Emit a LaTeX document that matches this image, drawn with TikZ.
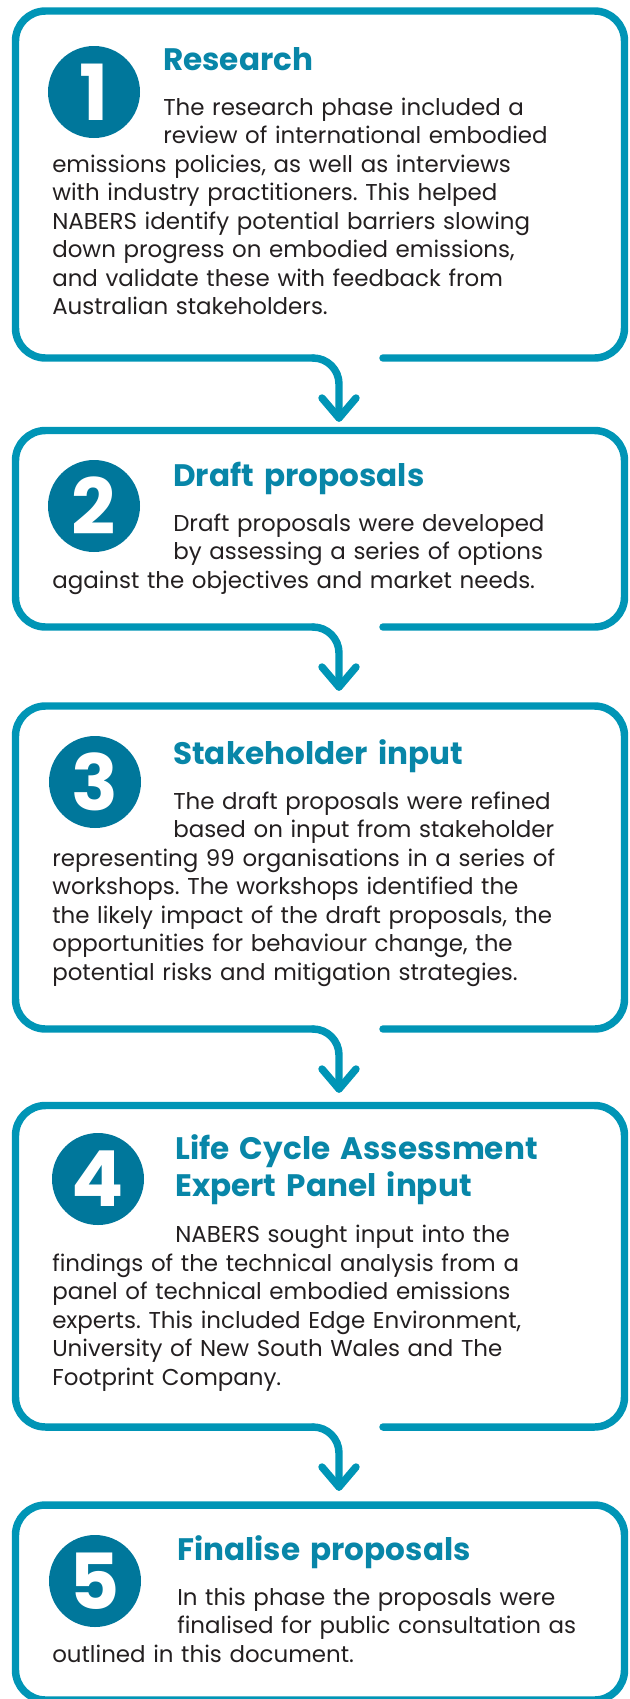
\documentclass[tikz,border=0pt]{standalone}
\usepackage{fontspec}
\setmainfont{Poppins}
\frenchspacing

\definecolor{stepblue}{RGB}{0,149,182}
\definecolor{discblue}{RGB}{0,119,155}
\definecolor{headblue}{RGB}{8,134,168}
\definecolor{bodygrey}{RGB}{35,31,32}

\tikzset{
  outline/.style={draw=stepblue, line width=5.6pt, line cap=round, line join=round},
  disc/.style={circle, fill=discblue, minimum size=69pt, inner sep=0pt, text=white,
    font=\fontsize{58pt}{58pt}\selectfont\bfseries},
  headtxt/.style={anchor=base west, inner sep=0pt, text=headblue, text width=420pt, align=left,
    font=\fontsize{23.3pt}{27.75pt}\selectfont\bfseries},
  bodytxt/.style={anchor=base west, inner sep=0pt, text=bodygrey, text width=440pt, align=left,
    font=\fontsize{17.2pt}{21.4pt}\selectfont},
}

\begin{document}
\begin{tikzpicture}[x=0.75pt,y=0.75pt,yscale=-1,xscale=1]
\useasboundingbox (0,0) rectangle (629,1699);
\clip (0,0) rectangle (629,1699);

%Rounded Rect: Research
\draw[outline, rounded corners=22.5pt] (383,358) -- (624.5,358) -- (624.5,11) -- (15.5,11) -- (15.5,358) -- (313,358);
%Curve Lines: down to Draft proposals
\coordinate (tip1) at (339,418);
\draw[outline] (313,358) .. controls (327.4,358) and (339,369.6) .. (339,384) -- (tip1);
\draw[outline] (322,398) -- (tip1) -- (356,398);

%Rounded Rect: Draft proposals
\draw[outline, rounded corners=22.5pt] (383,627) -- (624.5,627) -- (624.5,430.5) -- (15.5,430.5) -- (15.5,627) -- (313,627);
%Curve Lines: down to Stakeholder input
\coordinate (tip2) at (339,687);
\draw[outline] (313,627) .. controls (327.4,627) and (339,638.6) .. (339,653) -- (tip2);
\draw[outline] (322,667) -- (tip2) -- (356,667);

%Rounded Rect: Stakeholder input
\draw[outline, rounded corners=22.5pt] (383,1029) -- (624.5,1029) -- (624.5,706) -- (15.5,706) -- (15.5,1029) -- (313,1029);
%Curve Lines: down to LCA panel
\coordinate (tip3) at (339,1089);
\draw[outline] (313,1029) .. controls (327.4,1029) and (339,1040.6) .. (339,1055) -- (tip3);
\draw[outline] (322,1069) -- (tip3) -- (356,1069);

%Rounded Rect: LCA panel
\draw[outline, rounded corners=22.5pt] (383,1427) -- (624.5,1427) -- (624.5,1105.5) -- (15.5,1105.5) -- (15.5,1427) -- (313,1427);
%Curve Lines: down to Finalise proposals
\coordinate (tip4) at (339,1487);
\draw[outline] (313,1427) .. controls (327.4,1427) and (339,1438.6) .. (339,1453) -- (tip4);
\draw[outline] (322,1467) -- (tip4) -- (356,1467);

%Rounded Rect: Finalise proposals
\draw[outline, rounded corners=22.5pt] (15.5,1505) rectangle (624.5,1700);

%Shape: Circle
\node[disc] (n1) at (94,92) {1};
\node[disc] (n2) at (94,506) {2};
\node[disc] (n3) at (95,782) {3};
\node[disc] (n4) at (98,1179) {4};
\node[disc] (n5) at (95,1581) {5};

%Text Node
\node[headtxt] (h1) at (163,70) {Research};
\node[bodytxt] (t1a) at (163,115) {The research phase included a\\review of international embodied};
\node[bodytxt] (t1b) at (52,172) {emissions policies, as well as interviews\\with industry practitioners. This helped\\NABERS identify potential barriers slowing\\down progress on embodied emissions,\\and validate these with feedback from\\Australian stakeholders.};

%Text Node
\node[headtxt] (h2) at (173,486) {Draft proposals};
\node[bodytxt] (t2a) at (173,531) {Draft proposals were developed\\by assessing a series of options};
\node[bodytxt] (t2b) at (52,588) {against the objectives and market needs.};

%Text Node
\node[headtxt] (h3) at (173,764) {Stakeholder input};
\node[bodytxt] (t3a) at (173,809) {The draft proposals were refined\\based on input from stakeholder};
\node[bodytxt] (t3b) at (52,866) {representing 99 organisations in a series of\\workshops. The workshops identified the\\the likely impact of the draft proposals, the\\opportunities for behaviour change, the\\potential risks and mitigation strategies.};

%Text Node
\node[headtxt] (h4) at (175,1159) {Life Cycle Assessment\\Expert Panel input};
\node[bodytxt] (t4a) at (175,1242) {NABERS sought input into the};
\node[bodytxt] (t4b) at (52,1271) {findings of the technical analysis from a\\panel of technical embodied emissions\\experts. This included Edge Environment,\\University of New South Wales and The\\Footprint Company.};

%Text Node
\node[headtxt] (h5) at (177,1560) {Finalise proposals};
\node[bodytxt] (t5a) at (177,1605) {In this phase the proposals were\\finalised for public consultation as};
\node[bodytxt] (t5b) at (52,1662) {outlined in this document.};

\end{tikzpicture}
\end{document}
